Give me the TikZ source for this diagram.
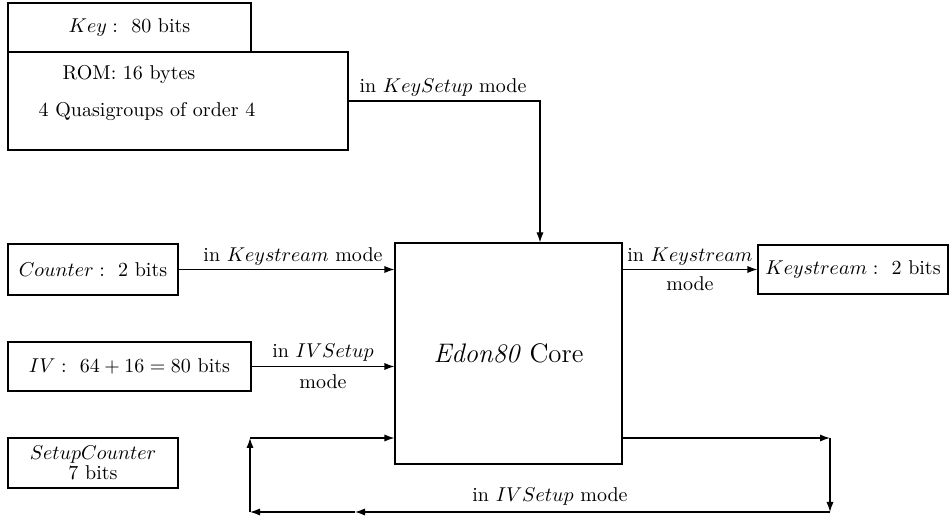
\documentclass[tikz,border=0pt]{standalone}
\usetikzlibrary{arrows.meta}
\begin{document}
\begin{tikzpicture}[x=0.5pt,y=-0.5pt,
  every node/.style={font=\fontsize{10pt}{12pt}\selectfont},
  box/.style={draw,line width=0.6pt,inner sep=0pt},
  lbl/.style={inner sep=0pt},
  arr/.style={line width=0.6pt,-{Latex[length=5pt,width=3.6pt]}}]
\useasboundingbox (0,0) rectangle (949,518);
% boxes
\node[box,minimum width=121.5pt,minimum height=24.5pt] (key) at (129.5,27.5) {$Key:$~~80 bits};
\node[box,minimum width=170pt,minimum height=49pt] (rom) at (178,101) {};
\node[lbl] (romt) at (129,75) {ROM: 16 bytes};
\node[lbl] (quasi) at (147,112) {4 Quasigroups of order 4};
\node[box,minimum width=113.5pt,minimum height=110.5pt,font=\fontsize{13.4pt}{16pt}\selectfont] (core) at (508.5,353.5) {\textit{Edon80} Core};
\node[box,minimum width=85pt,minimum height=25.5pt] (counter) at (93,269.5) {$Counter:$~~2 bits};
\node[box,minimum width=121.5pt,minimum height=24.5pt] (iv) at (129.5,366.5) {$IV:$~~$64+16=80$ bits};
\node[box,minimum width=95pt,minimum height=24.5pt] (ks) at (853,269.5) {$Keystream:$~~2 bits};
\node[box,minimum width=85pt,minimum height=25pt,align=center] (sc) at (93,463) {$SetupCounter$\\[-2pt]7 bits};
% connectors
\draw[arr] (rom.east) -| ([xshift=15.75pt]core.north);
\node[lbl] (l1) at (443,88) {in $KeySetup$ mode};
\draw[arr] (counter.east) -- (counter.east -| core.west);
\node[lbl] (l2) at (293,257) {in $Keystream$ mode};
\draw[arr] (iv.east) -- (iv.east -| core.west);
\node[lbl] (l3) at (323,353) {in $IVSetup$};
\node[lbl] (l4) at (323,382) {mode};
\draw[arr] (core.east |- ks.west) -- (ks.west);
\node[lbl] (l5) at (690,257) {in $Keystream$};
\node[lbl] (l6) at (690,284) {mode};
% feedback loop
\coordinate (fbR) at (830,438);
\coordinate (fbRB) at (830,512);
\coordinate (fbMid) at (355,512);
\coordinate (fbLB) at (250,512);
\coordinate (fbLT) at (250,438);
\draw[arr] (core.east |- fbR) -- (fbR);
\draw[arr] (fbR) -- (fbRB);
\draw[arr] (fbRB) -- (fbMid);
\draw[arr] (fbMid) -- (fbLB);
\draw[arr] (fbLB) -- (fbLT);
\draw[arr] (fbLT) -- (fbLT -| core.west);
\node[lbl] (l7) at (550,497) {in $IVSetup$ mode};
\end{tikzpicture}
\end{document}
